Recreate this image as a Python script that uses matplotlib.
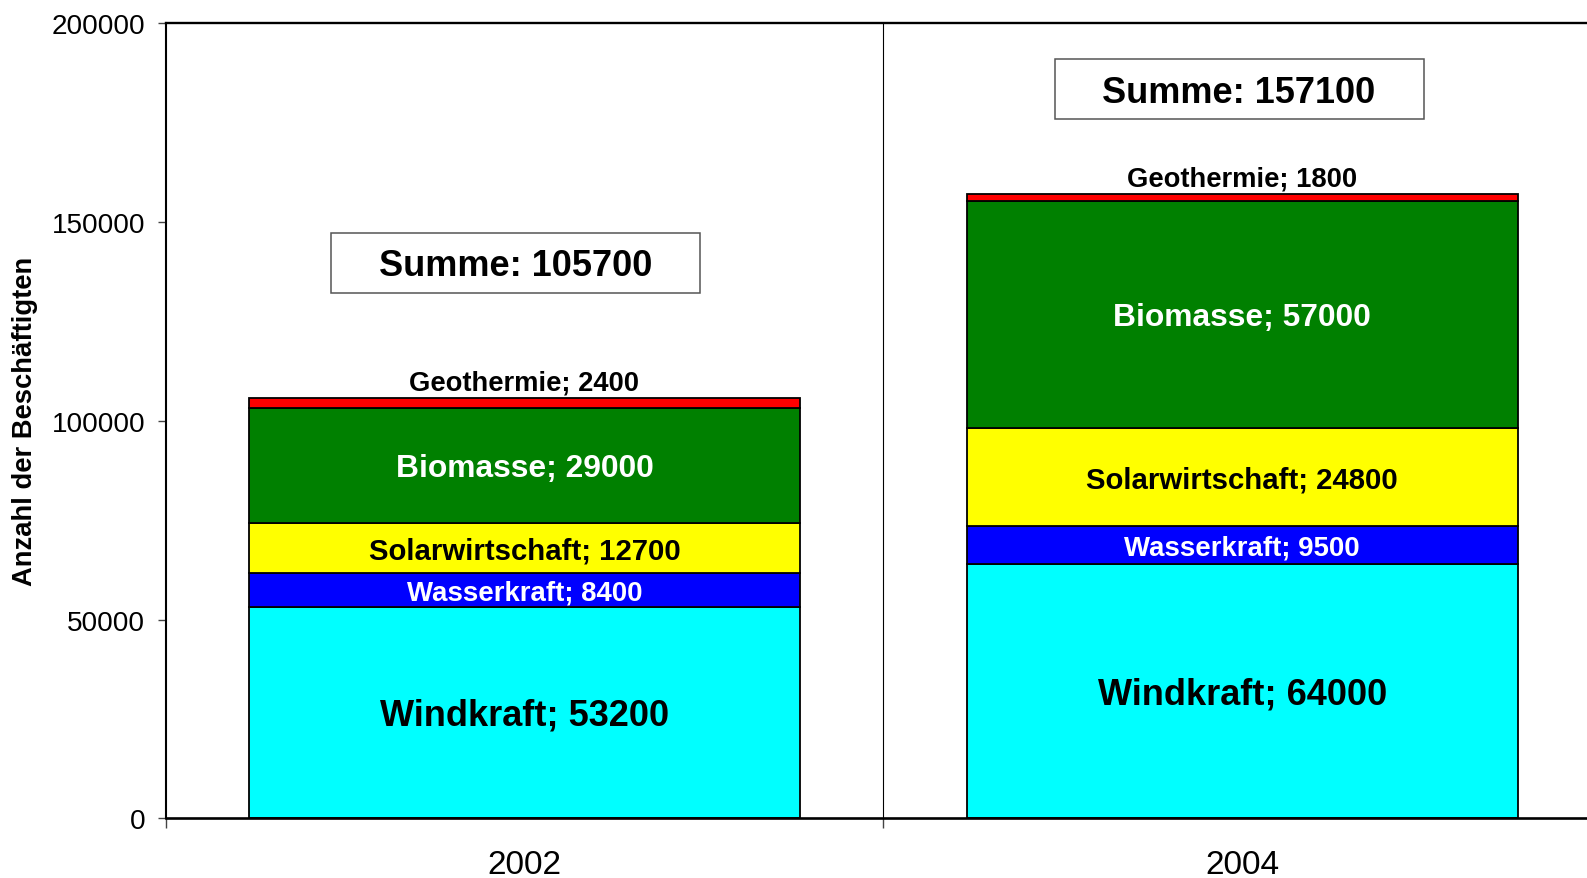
import numpy as np
import matplotlib
matplotlib.use("Agg")
import matplotlib.pyplot as plt
from matplotlib.patches import Rectangle

plt.rcParams['font.family'] = ['Liberation Sans', 'DejaVu Sans']

years = ['2002', '2004']
sources = ['Windkraft', 'Wasserkraft', 'Solarwirtschaft', 'Biomasse', 'Geothermie']
values = {
    'Windkraft': [53200, 64000],
    'Wasserkraft': [8400, 9500],
    'Solarwirtschaft': [12700, 24800],
    'Biomasse': [29000, 57000],
    'Geothermie': [2400, 1800],
}
totals = [105700, 157100]

colors = ['#00FFFF', '#0000FF', '#FFFF00', '#008000', '#FF0000']
text_colors = ['black', 'white', 'black', 'white', 'black']
label_sizes = [26, 19.9, 21.2, 22.9, 19.7]

W, H = 1587, 879
x0_px, top_px, bot_px, unit_px = 165.5, 24.3, 819.3, 717.8

fig = plt.figure(figsize=(W / 100, H / 100), dpi=100)
ax = fig.add_axes([x0_px / W, (H - bot_px) / H, (W - x0_px) / W, (bot_px - top_px) / H])

x = np.array([0.5, 1.5])
width = 0.768
bottom = np.zeros(2)
for i, src in enumerate(sources):
    vals = np.array(values[src])
    ax.bar(x, vals, width, bottom=bottom, color=colors[i], edgecolor='black', linewidth=1.3)
    for j in range(2):
        if src == 'Geothermie':
            ax.annotate(f'{src}; {vals[j]}', (x[j], bottom[j] + vals[j]), xytext=(0, 11),
                        textcoords='offset points', ha='center', va='center',
                        fontsize=label_sizes[i], fontweight='bold', color=text_colors[i])
        else:
            ax.annotate(f'{src}; {vals[j]}', (x[j], bottom[j] + vals[j] / 2), xytext=(0, -2),
                        textcoords='offset points', ha='center', va='center',
                        fontsize=label_sizes[i], fontweight='bold', color=text_colors[i])
    bottom += vals

# Summe boxes (position in data units of the axes)
box_x0 = [0.2306, 1.2387]
box_y0 = [132150, 175900]
box_w, box_h = 0.514, 15000
for j in range(2):
    ax.add_patch(Rectangle((box_x0[j], box_y0[j]), box_w, box_h, facecolor='white',
                           edgecolor='#555555', linewidth=1.1, zorder=3))
    ax.annotate(f'Summe: {totals[j]}', (box_x0[j] + box_w / 2, box_y0[j] + box_h / 2),
                xytext=(0, -2), textcoords='offset points',
                ha='center', va='center', fontsize=26, fontweight='bold', zorder=4)

ax.set_xlim(0, (W - x0_px) / unit_px)
ax.set_ylim(0, 200000)
ax.set_yticks([0, 50000, 100000, 150000, 200000])
ax.set_xticks([0, 1])
ax.set_xticklabels([])
ax.set_xticks(x, minor=True)
ax.set_xticklabels(years, minor=True)
ax.tick_params(axis='x', which='minor', length=0, labelsize=24, pad=22)
ax.tick_params(axis='x', which='major', direction='out', length=7, width=1, color='#444444')
ax.tick_params(axis='y', direction='out', length=6, width=1, labelsize=20.1, color='#444444', pad=8.5)
ax.axvline(1, color='black', linewidth=0.8)

ax.spines['right'].set_visible(False)
ax.spines['top'].set_linewidth(1.7)
ax.spines['bottom'].set_linewidth(1.9)
ax.spines['left'].set_linewidth(1.5)

ax.set_ylabel('Anzahl der Beschäftigten', fontsize=19.7, fontweight='bold')
ax.yaxis.set_label_coords((38.5 - x0_px) / (W - x0_px), 0.5)

fig.savefig('out.png', dpi=100)
